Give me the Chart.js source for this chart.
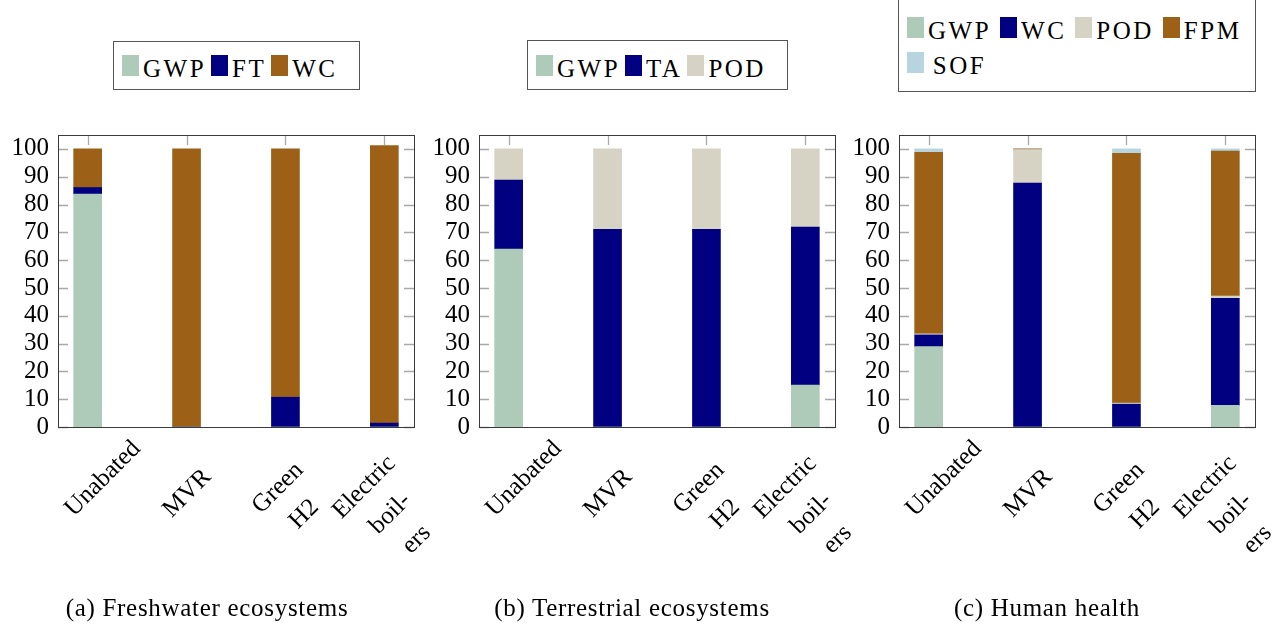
<!DOCTYPE html>
<html>
<head>
<meta charset="utf-8">
<script src="https://cdn.jsdelivr.net/npm/chart.js@4/dist/chart.umd.min.js"></script>
<style>
  html, body { margin: 0; padding: 0; background: #fff; overflow: hidden; }
  body { width: 1278px; height: 625px; position: relative; font-family: "Liberation Serif", "Times New Roman", serif; }
  canvas { position: absolute; top: 105px; }
  .legend { position: absolute; box-sizing: border-box; border: 1px solid #555; background: #fff; font-size: 25px; letter-spacing: 2.5px; color: #000; }
  .row { display: flex; align-items: flex-end; height: 34px; }
  .sw { display: inline-block; width: 17px; height: 21px; margin-right: 4px; margin-bottom: 6px; flex: none; }
  .lb { margin-right: 5px; line-height: 26px; }
  .grid4 { display: grid; grid-template-columns: repeat(4, auto); justify-content: start; }
  .grid4 .cell { display: flex; align-items: flex-end; height: 35px; }
  .grid4 .lb { flex: 1; text-align: center; margin-right: 9px; }
  .caption { position: absolute; top: 594px; width: 400px; text-align: center; font-size: 25px; letter-spacing: 0.7px; color: #000; }
</style>
</head>
<body>

<div class="legend" style="left:113px; top:41px; width:247px; height:49px; padding:6px 0 0 8px;">
  <div class="row" id="legA"></div>
</div>
<div class="legend" style="left:527px; top:40px; width:261px; height:50px; padding:7px 0 0 8px;">
  <div class="row" id="legB"></div>
</div>
<div class="legend" style="left:898px; top:-1px; width:358px; height:93px; padding:9px 0 0 8px;">
  <div class="grid4" id="legC"></div>
</div>

<canvas id="chartA" width="437" height="500" style="left:0px"></canvas>
<canvas id="chartB" width="437" height="500" style="left:421px"></canvas>
<canvas id="chartC" width="437" height="500" style="left:841px"></canvas>

<div class="caption" style="left:7px">(a) Freshwater ecosystems</div>
<div class="caption" style="left:432px">(b) Terrestrial ecosystems</div>
<div class="caption" style="left:847px">(c) Human health</div>

<script>
// categories (multi-line tick labels)
const categories = [['Unabated'], ['MVR'], ['Green', 'H2'], ['Electric', 'boil-', 'ers']];

// (a) Freshwater ecosystems
const fwGWP = [83.8, 0, 0, 0];
const fwFT = [2.3, 0, 10.7, 1.4];
const fwWC = [13.9, 100, 89.3, 99.8];

// (b) Terrestrial ecosystems
const teGWP = [64.0, 0, 0, 15.1];
const teTA = [24.8, 71.1, 71.1, 56.8];
const tePOD = [11.2, 28.9, 28.9, 28.1];

// (c) Human health
const hhGWP = [28.9, 0, 0, 7.8];
const hhWC = [4.2, 87.7, 8.2, 38.5];
const hhPOD = [0.4, 12.1, 0.4, 0.8];
const hhFPM = [65.3, 0.2, 89.8, 52.1];
const hhSOF = [1.2, 0, 1.6, 0.8];

// colours
const cGreen = '#aecab9';
const cNavy = '#000080';
const cBrown = '#9c6017';
const cGrey = '#d6d3c5';
const cBlue = '#b7d4df';

const serif = '"Liberation Serif", "Times New Roman", serif';
// small along-text nudge for the long single-word label
const labelShift = [40, 0, 0, 0];

// inner tick marks, like pgfplots
const framePlugin = {
    id: 'frame',
    beforeDatasetsDraw(chart) {
        const { ctx, chartArea: a, scales: { x, y } } = chart;
        ctx.save();
        ctx.strokeStyle = '#a8a8a8';
        ctx.lineWidth = 1.3;
        ctx.beginPath();
        y.ticks.forEach(t => {
            const py = Math.round(y.getPixelForValue(t.value)) + 0.5;
            ctx.moveTo(a.left, py); ctx.lineTo(a.left + 10, py);
            ctx.moveTo(a.right - 10, py); ctx.lineTo(a.right, py);
        });
        categories.forEach((c, i) => {
            const px = Math.round(x.getPixelForValue(i)) + 0.5;
            ctx.moveTo(px, a.top); ctx.lineTo(px, a.top + 10);
        });
        ctx.stroke();
        ctx.restore();
    },
    afterDatasetsDraw(chart) {
        const { ctx, chartArea: a } = chart;
        ctx.save();
        ctx.strokeStyle = '#3a3a3a';
        ctx.lineWidth = 1;
        ctx.strokeRect(Math.round(a.left) + 0.5, Math.round(a.top) + 0.5, Math.round(a.width), Math.round(a.height));
        ctx.restore();
    }
};

// rotated, multi-line category labels
const xLabelPlugin = {
    id: 'xLabels',
    afterDraw(chart) {
        const { ctx, chartArea: a, scales: { x } } = chart;
        ctx.save();
        ctx.font = '25px ' + serif;
        ctx.fillStyle = '#000';
        ctx.textAlign = 'center';
        ctx.textBaseline = 'alphabetic';
        categories.forEach((lines, i) => {
            const x0 = x.getPixelForValue(i);
            const n = lines.length;
            const boxW = Math.max(...lines.map(l => ctx.measureText(l).width));
            const uc = -18 - boxW / 2 + labelShift[i];
            lines.forEach((line, k) => {
                const v = 46 - 9.5 * (n - 1) + 37 * k;
                const px = x0 + (uc + v) / Math.SQRT2;
                const py = a.bottom + (v - uc) / Math.SQRT2;
                ctx.save();
                ctx.translate(px, py);
                ctx.rotate(-Math.PI / 4);
                ctx.fillText(line, 0, 8);
                ctx.restore();
            });
        });
        ctx.restore();
    }
};

function buildLegend(id, series, gridMode) {
    const el = document.getElementById(id);
    series.forEach(s => {
        const wrap = gridMode ? document.createElement('div') : el;
        if (gridMode) { wrap.className = 'cell'; el.appendChild(wrap); }
        const sw = document.createElement('span');
        sw.className = 'sw';
        sw.style.background = s.color;
        const lb = document.createElement('span');
        lb.className = 'lb';
        lb.textContent = s.label;
        wrap.appendChild(sw);
        wrap.appendChild(lb);
    });
}

function makePanel(canvasId, series) {
    const ctx = document.getElementById(canvasId).getContext('2d');
    new Chart(ctx, {
        type: 'bar',
        data: {
            datasets: series.map(s => ({
                label: s.label,
                data: s.values.map((v, i) => ({ x: i, y: v })),
                backgroundColor: s.color,
                borderWidth: 0,
                barThickness: 28
            }))
        },
        options: {
            responsive: false,
            animation: false,
            layout: { padding: { left: 8, top: 30, right: 23, bottom: 178 } },
            plugins: { legend: { display: false }, tooltip: { enabled: false } },
            scales: {
                x: {
                    type: 'linear',
                    min: -0.3,
                    max: 3.3,
                    offset: false,
                    stacked: true,
                    display: false
                },
                y: {
                    stacked: true,
                    min: 0,
                    max: 105,
                    afterFit: s => { s.width = 50; },
                    grid: { display: false, drawTicks: false },
                    border: { display: false },
                    ticks: {
                        stepSize: 10,
                        includeBounds: false,
                        padding: 9,
                        color: '#000',
                        font: { family: serif, size: 25, lineHeight: 1 }
                    }
                }
            }
        },
        plugins: [framePlugin, xLabelPlugin]
    });
}

const seriesA = [
    { label: 'GWP', values: fwGWP, color: cGreen },
    { label: 'FT', values: fwFT, color: cNavy },
    { label: 'WC', values: fwWC, color: cBrown }
];
const seriesB = [
    { label: 'GWP', values: teGWP, color: cGreen },
    { label: 'TA', values: teTA, color: cNavy },
    { label: 'POD', values: tePOD, color: cGrey }
];
const seriesC = [
    { label: 'GWP', values: hhGWP, color: cGreen },
    { label: 'WC', values: hhWC, color: cNavy },
    { label: 'POD', values: hhPOD, color: cGrey },
    { label: 'FPM', values: hhFPM, color: cBrown },
    { label: 'SOF', values: hhSOF, color: cBlue }
];

buildLegend('legA', seriesA, false);
buildLegend('legB', seriesB, false);
buildLegend('legC', seriesC, true);

makePanel('chartA', seriesA);
makePanel('chartB', seriesB);
makePanel('chartC', seriesC);
</script>
</body>
</html>
